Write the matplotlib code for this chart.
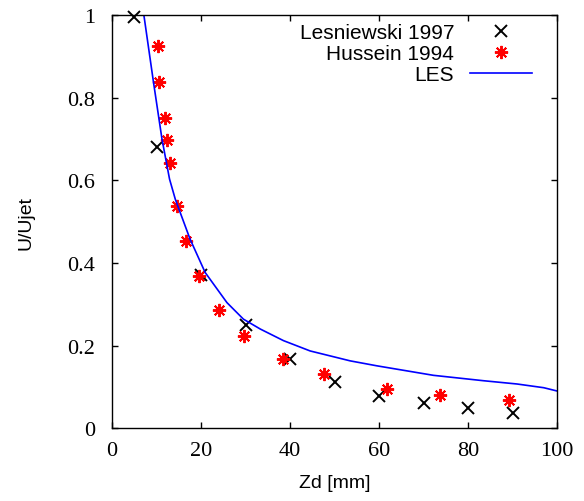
import matplotlib
matplotlib.use("Agg")
import matplotlib.pyplot as plt
import numpy as np

# Lesniewski 1997 measurements
les97_z = np.array([5, 10, 20, 30, 40, 50, 60, 70, 80, 90])
les97_u = np.array([0.995, 0.68, 0.37, 0.25, 0.168, 0.112, 0.077, 0.06, 0.05, 0.038])

# Hussein 1994 measurements
hus_z = np.array([10.2, 10.6, 11.8, 12.4, 12.9, 14.5, 16.6, 19.5, 24.0, 29.7,
                  38.4, 47.7, 61.7, 73.7, 89.1])
hus_u = np.array([0.924, 0.838, 0.752, 0.697, 0.641, 0.538, 0.453, 0.369, 0.286,
                  0.222, 0.167, 0.131, 0.096, 0.081, 0.068])

# LES centreline profile
les_z = np.array([7.0, 9.3, 11.2, 12.9, 14.2, 15.3, 17.5, 20.9, 25.8, 29.5, 33.3,
                  38.5, 44.5, 53.5, 59.5, 72.2, 83.4, 91.0, 97.0, 100.0])
les_u = np.array([1.01, 0.837, 0.70, 0.603, 0.554, 0.522, 0.458, 0.377, 0.304, 0.264,
                  0.240, 0.212, 0.187, 0.163, 0.151, 0.128, 0.115, 0.107, 0.098, 0.090])

xticks = [0, 20, 40, 60, 80, 100]
yticks = [0, 0.2, 0.4, 0.6, 0.8, 1]
ytick_labels = ["0", "0.2", "0.4", "0.6", "0.8", "1"]

fig = plt.figure(figsize=(5.84, 5.02), dpi=100)
ax = fig.add_axes([0.192, 0.145, 0.762, 0.823])

ax.plot(les97_z, les97_u, linestyle="none", marker="x", color="black",
        markersize=9, markeredgewidth=1.4, label="Lesniewski 1997", clip_on=False)
ax.plot(hus_z, hus_u, linestyle="none", marker=(8, 2, 0), color="red",
        markersize=9.5, markeredgewidth=1.4, label="Hussein 1994")
ax.plot(les_z, les_u, color="blue", linewidth=1.2, label="LES")

ax.set_xlim(0, 100)
ax.set_ylim(0, 1)
ax.set_xticks(xticks)
ax.set_yticks(yticks)
ax.set_yticklabels(ytick_labels)

ax.tick_params(direction="in", top=True, right=True, length=4, width=1,
               labelsize=16)
ax.tick_params(axis="y", pad=12)
ax.tick_params(axis="x", pad=9)
for lbl in ax.get_xticklabels() + ax.get_yticklabels():
    lbl.set_family("Liberation Serif")
for s in ax.spines.values():
    s.set_linewidth(1.0)

ax.set_xlabel("Zd [mm]", fontsize=14, family="Liberation Sans", labelpad=10)
ax.set_ylabel("U/Ujet", fontsize=14, family="Liberation Sans", labelpad=24)

# gnuplot-style key: right-aligned labels, symbol to the right
leg = ax.legend(loc="upper right", bbox_to_anchor=(0.944, 0.98),
                markerfirst=False, frameon=False,
                prop={"family": "Liberation Sans", "size": 15},
                handlelength=3.0, handletextpad=0.75, labelspacing=0.1,
                borderaxespad=0.0, borderpad=0.0)

fig.savefig("out.png", dpi=100)
